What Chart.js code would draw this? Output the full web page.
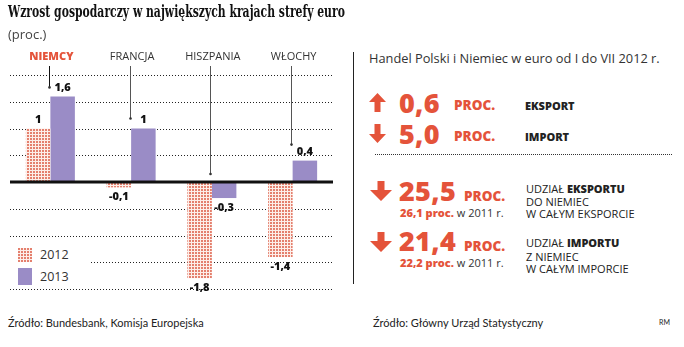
<!DOCTYPE html>
<html>
<head>
<meta charset="utf-8">
<script src="https://cdn.jsdelivr.net/npm/chart.js@4/dist/chart.umd.min.js"></script>
<style>
  html, body { margin: 0; padding: 0; background: #fff; }
  body { width: 684px; height: 347px; position: relative; overflow: hidden; font-family: "Open Sans", sans-serif; color: #222; }
  .abs { position: absolute; white-space: nowrap; line-height: 1; }
  #title { left: 8px; top: 3px; font-family: "DejaVu Serif", serif; font-weight: bold; font-size: 17px; color: #111; transform-origin: left center; }
  #unit { left: 8px; top: 28px; font-size: 13px; color: #444; }
  #chartBox { position: absolute; left: 0; top: 0; width: 345px; height: 300px; }
  #legend { position: absolute; left: 10px; top: 244px; width: 80px; height: 43px; background: #fff; }
  .sw { position: absolute; left: 8px; width: 14px; }
  .lgTxt { position: absolute; left: 30px; font-size: 12.5px; color: #333; line-height: 1; }
  #vline { position: absolute; left: 353px; top: 52px; width: 1px; height: 232px; background: #222; }
  #sep { position: absolute; left: 375px; top: 154px; width: 297px; border-top: 1px dotted #333; }
  .red { color: #e4533a; font-weight: 800; }
  .big { font-size: 27px; letter-spacing: 0.3px; }
  .proc { font-size: 13.5px; }
  .cap { font-size: 11px; color: #222; }
  .cap b { font-weight: 800; }
  .src { font-family: Lato, sans-serif; font-size: 11px; color: #222; }
</style>
</head>
<body>
<div id="chartBox"><canvas id="chart"></canvas></div>
<div class="abs" id="title">Wzrost gospodarczy w największych krajach strefy euro</div>
<div class="abs" id="unit">(proc.)</div>

<div id="legend">
  <canvas class="sw" id="sw2012" width="14" height="14" style="top:4px"></canvas>
  <div class="sw" style="top:24px;height:17px;background:#9a8cc6"></div>
  <div class="lgTxt" style="top:5px">2012</div>
  <div class="lgTxt" style="top:27px">2013</div>
</div>

<!-- right panel -->
<div id="vline"></div>
<div class="abs" style="left:369px;top:52px;font-size:12.8px;color:#333">Handel Polski i Niemiec w euro od I do VII 2012 r.</div>

<svg class="abs" style="left:369px;top:93px" width="17" height="19" viewBox="0 0 17 19"><path d="M8.5 0 L17 9 L11.5 9 L11.5 19 L5.5 19 L5.5 9 L0 9 Z" fill="#e4533a"/></svg>
<div class="abs red big" style="left:399px;top:89px">0,6</div>
<div class="abs red proc" style="left:454px;top:99px">PROC.</div>
<div class="abs cap" style="left:525px;top:100px;font-weight:800">EKSPORT</div>

<svg class="abs" style="left:369px;top:124px" width="17" height="19" viewBox="0 0 17 19"><path d="M8.5 19 L17 10 L11.5 10 L11.5 0 L5.5 0 L5.5 10 L0 10 Z" fill="#e4533a"/></svg>
<div class="abs red big" style="left:399px;top:120px">5,0</div>
<div class="abs red proc" style="left:454px;top:130px">PROC.</div>
<div class="abs cap" style="left:525px;top:131px;font-weight:800">IMPORT</div>

<div id="sep"></div>

<svg class="abs" style="left:370px;top:181px" width="22" height="20" viewBox="0 0 22 20"><path d="M11 20 L22 9 L14.5 9 L14.5 0 L7.5 0 L7.5 9 L0 9 Z" fill="#e4533a"/></svg>
<div class="abs red big" style="left:399px;top:177px">25,5</div>
<div class="abs red proc" style="left:464px;top:190px">PROC.</div>
<div class="abs" style="left:400px;top:207px;font-size:11px"><span class="red">26,1 proc.</span> <span style="color:#333">w 2011 r.</span></div>
<div class="abs cap" style="left:526px;top:183px">UDZIAŁ <b>EKSPORTU</b></div>
<div class="abs cap" style="left:526px;top:196px">DO NIEMIEC</div>
<div class="abs cap" style="left:526px;top:208px">W CAŁYM EKSPORCIE</div>

<svg class="abs" style="left:370px;top:232px" width="22" height="20" viewBox="0 0 22 20"><path d="M11 20 L22 9 L14.5 9 L14.5 0 L7.5 0 L7.5 9 L0 9 Z" fill="#e4533a"/></svg>
<div class="abs red big" style="left:399px;top:227px">21,4</div>
<div class="abs red proc" style="left:464px;top:240px">PROC.</div>
<div class="abs" style="left:400px;top:257px;font-size:11px"><span class="red">22,2 proc.</span> <span style="color:#333">w 2011 r.</span></div>
<div class="abs cap" style="left:526px;top:237px">UDZIAŁ <b>IMPORTU</b></div>
<div class="abs cap" style="left:526px;top:251px">Z NIEMIEC</div>
<div class="abs cap" style="left:526px;top:263px">W CAŁYM IMPORCIE</div>

<div class="abs src" style="left:8px;top:317px">Źródło: Bundesbank, Komisja Europejska</div>
<div class="abs src" style="left:373px;top:317px">Źródło: Główny Urząd Statystyczny</div>
<div class="abs src" style="left:659px;top:319px;font-size:7px">RM</div>

<script>
const countries = ['NIEMCY', 'FRANCJA', 'HISZPANIA', 'WŁOCHY'];
const growth2012 = [1, -0.1, -1.8, -1.4];
const growth2013 = [1.6, 1, -0.3, 0.4];
const gridValues = [2, 1.5, 1, 0.5, -0.5, -1, -1.5, -2];

const purple = '#9a8cc6';
const red = '#e4533a';
// how far above the highest mark each pointer line stops (px)
const pointerGap = [9, 10, 8, 16];

// dotted fill for 2012
function makeDots() {
    const c = document.createElement('canvas');
    c.width = 3; c.height = 3;
    const g = c.getContext('2d');
    g.fillStyle = '#fdeee9';
    g.fillRect(0, 0, 3, 3);
    g.fillStyle = '#e4806e';
    g.fillRect(0, 0, 2, 2);
    return c;
}
const dots = makeDots();
const swCtx = document.getElementById('sw2012').getContext('2d');
swCtx.fillStyle = swCtx.createPattern(dots, 'repeat');
swCtx.fillRect(0, 0, 14, 14);

function fmt(v) {
    return String(v).replace('.', ',');
}

const decorations = {
    id: 'decorations',
    beforeDatasetsDraw(chart) {
        const { ctx, chartArea } = chart;
        const y = chart.scales.y;
        ctx.save();
        ctx.strokeStyle = '#222';
        ctx.lineWidth = 1;
        ctx.setLineDash([1, 2]);
        gridValues.forEach(v => {
            const py = Math.round(y.getPixelForValue(v)) + 0.5;
            ctx.beginPath();
            ctx.moveTo(chartArea.left, py);
            ctx.lineTo(chartArea.right, py);
            ctx.stroke();
        });
        ctx.restore();
    },
    afterDatasetsDraw(chart) {
        const { ctx, chartArea } = chart;
        const x = chart.scales.x;
        const y = chart.scales.y;
        ctx.save();

        // baseline
        ctx.strokeStyle = '#111';
        ctx.lineWidth = 3;
        const y0 = Math.round(y.getPixelForValue(0));
        ctx.beginPath();
        ctx.moveTo(chartArea.left, y0);
        ctx.lineTo(chartArea.right, y0);
        ctx.stroke();

        // country names and pointers
        countries.forEach((name, i) => {
            const cx = x.getPixelForValue(i);
            ctx.font = (i === 0 ? '800 ' : '') + '11px "Open Sans"';
            ctx.fillStyle = i === 0 ? red : '#333';
            ctx.textAlign = 'center';
            ctx.textBaseline = 'middle';
            ctx.fillText(name, cx + 1, chartArea.top - 18);

            const top = Math.min(y0, y.getPixelForValue(Math.max(growth2012[i], growth2013[i])));
            const px = Math.round(cx - 1.5) + 0.5;
            const end = top - pointerGap[i];
            ctx.strokeStyle = i === 0 ? '#111' : '#555';
            ctx.lineWidth = 1;
            ctx.beginPath();
            ctx.moveTo(px, chartArea.top - 9);
            ctx.lineTo(px, end);
            ctx.stroke();
            ctx.fillStyle = '#333';
            ctx.beginPath();
            ctx.arc(px, end, 1.3, 0, Math.PI * 2);
            ctx.fill();
        });

        // value labels
        ctx.font = '800 11px "Open Sans"';
        ctx.fillStyle = '#111';
        ctx.textAlign = 'center';
        ctx.textBaseline = 'middle';
        chart.data.datasets.forEach((ds, d) => {
            chart.getDatasetMeta(d).data.forEach((bar, i) => {
                const v = ds.data[i];
                const ly = v >= 0 ? bar.y - 9 : bar.y + 10;
                ctx.fillText(fmt(v), bar.x, ly);
            });
        });
        ctx.restore();
    }
};

new Chart(document.getElementById('chart'), {
    type: 'bar',
    data: {
        labels: countries,
        datasets: [
            { label: '2012', data: growth2012, backgroundColor: ctx => ctx.chart.ctx.createPattern(dots, 'repeat') },
            { label: '2013', data: growth2013, backgroundColor: purple }
        ]
    },
    options: {
        responsive: true,
        maintainAspectRatio: false,
        animation: false,
        layout: { padding: { left: 10, right: 12, top: 75, bottom: 11 } },
        datasets: { bar: { barPercentage: 1, categoryPercentage: 0.607 } },
        scales: {
            x: { display: false },
            y: { display: false, min: -2, max: 2 }
        },
        plugins: {
            legend: { display: false },
            tooltip: { enabled: false }
        }
    },
    plugins: [decorations]
});

// squeeze the title to the width it has in print
const title = document.getElementById('title');
title.style.transform = 'scaleX(' + (337 / title.offsetWidth) + ')';
</script>
</body>
</html>
